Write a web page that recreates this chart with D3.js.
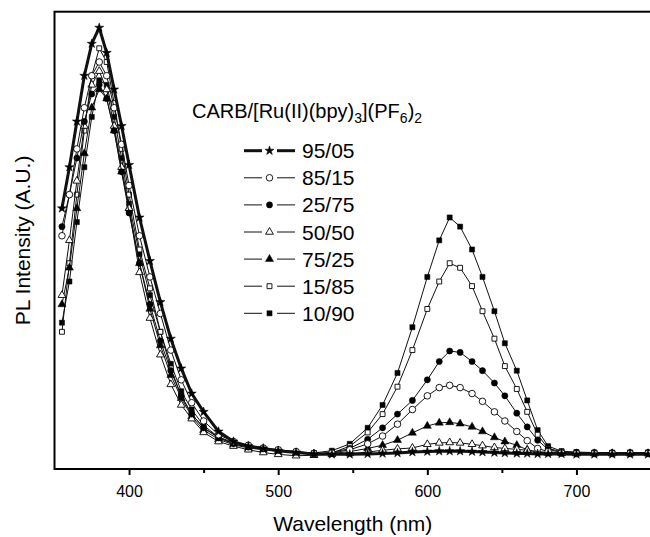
<!DOCTYPE html>
<html>
<head>
<meta charset="utf-8">
<script src="https://cdn.jsdelivr.net/npm/d3@7"></script>
<style>
  body { margin: 0; background: #fff; }
  svg { display: block; font-family: "Liberation Sans", Arial, sans-serif; }
</style>
</head>
<body>
<script>
// wavelength grid (nm), shared by all series
var wavelengths = [355, 360, 365, 370, 375, 380, 385, 390, 395, 400, 407, 414, 421, 428, 435, 442, 450, 460, 470, 480,
  490, 500, 512, 524, 536, 548, 560, 570, 580, 590, 600, 608, 615, 622, 630, 637, 645, 652, 660, 667,
  674, 681, 690, 700, 712, 724, 736, 748];

// PL intensity (a.u.)
var s9505 = [57, 66, 76, 86, 93, 96.5, 91, 83, 75, 66.5, 55, 45.5, 36.5, 28.5, 22, 16.5, 12.5, 8.2, 6, 5,
  4.5, 4, 3.6, 3.3, 3.2, 3.2, 3.3, 3.4, 3.5, 3.7, 3.8, 3.9, 3.9, 3.9, 3.8, 3.7, 3.6, 3.5, 3.4, 3.4,
  3.3, 3.3, 3.3, 3.2, 3.2, 3.2, 3.2, 3.2];
var s8515 = [51, 60, 70, 79, 86, 89, 86, 79, 71, 62, 51, 42, 34, 26, 19.5, 14.5, 10.5, 7.5, 6, 5.2,
  4.6, 4.2, 3.8, 3.4, 3.5, 4.2, 5.5, 7.2, 9.8, 13, 16, 17.8, 18.3, 17.8, 16.5, 14.8, 12.5, 10.5, 8.2, 6.2,
  4.5, 3.8, 3.5, 3.4, 3.4, 3.4, 3.4, 3.4];
var s2575 = [53, 60, 68, 76, 82, 84, 81, 74, 65, 56, 45, 36, 28, 21.5, 16, 12, 9, 6.8, 5.5, 4.8,
  4.4, 4.1, 3.7, 3.4, 3.6, 4.5, 6.5, 9, 12, 15, 19.5, 23.5, 25.8, 25.5, 23.5, 21.5, 18.8, 16, 12.2, 9.2,
  6.3, 4.3, 3.6, 3.5, 3.5, 3.5, 3.5, 3.5];
var s5050 = [38, 50, 63, 75, 84, 87, 83, 75, 66, 57, 43, 33, 25, 18.5, 14, 11, 8, 6, 5, 4.2,
  3.6, 3.2, 2.9, 3, 3.2, 3.4, 3.7, 4.1, 4.4, 4.6, 5.4, 5.7, 5.8, 5.7, 5.4, 5.1, 4.7, 4.5, 4.3, 4.1,
  3.8, 3.6, 3.5, 3.4, 3.4, 3.4, 3.4, 3.4];
var s7525 = [36, 44, 57, 69, 79, 83, 81, 74, 65, 57, 45, 35, 27, 20.5, 15.5, 11.5, 8.5, 6.5, 5.3, 4.6,
  4.2, 3.9, 3.5, 3.3, 3.4, 3.8, 4.5, 5.2, 6.3, 7.9, 9.4, 10.1, 10.2, 9.9, 9.2, 8.2, 6.9, 6, 5.2, 4.2,
  3.7, 3.5, 3.4, 3.4, 3.4, 3.4, 3.4, 3.4];
var s1585 = [30, 45, 60, 74, 86, 92, 89, 80, 70, 60, 48, 39.5, 30, 22, 16, 12, 9, 7, 5.5, 4.8,
  4.3, 4, 3.6, 3.3, 3.5, 5, 8, 12, 18, 26, 35, 41, 45, 44, 40, 34.5, 28.5, 22.5, 17.5, 12.5,
  7.5, 4.5, 3.8, 3.6, 3.6, 3.5, 3.6, 3.6];
var s1090 = [32, 41, 54, 66, 77, 85, 84, 77, 68, 58, 47, 38, 30, 23, 17, 13, 9.5, 7, 5.8, 5,
  4.5, 4.2, 3.8, 3.5, 4, 5.5, 9, 14, 21, 31, 42, 50, 55, 53, 48, 42, 34.5, 27.5, 21.5, 15,
  8.5, 5, 3.9, 3.7, 3.6, 3.6, 3.6, 3.6];

var xTicks = [400, 500, 600, 700];
var xMinorTicks = [450, 550, 650];

var series = [
  { name: "95/05", values: s9505, symbol: d3.symbolStar, size: 26, open: false, width: 3 },
  { name: "85/15", values: s8515, symbol: d3.symbolCircle, size: 34, open: true, width: 1 },
  { name: "25/75", values: s2575, symbol: d3.symbolCircle, size: 30, open: false, width: 1 },
  { name: "50/50", values: s5050, symbol: d3.symbolTriangle, size: 26, open: true, width: 1 },
  { name: "75/25", values: s7525, symbol: d3.symbolTriangle, size: 28, open: false, width: 1 },
  { name: "15/85", values: s1585, symbol: d3.symbolSquare, size: 24, open: true, width: 1 },
  { name: "10/90", values: s1090, symbol: d3.symbolSquare, size: 26, open: false, width: 1 }
];
// draw order: star curve last so it sits on top
var drawOrder = ["10/90", "15/85", "75/25", "50/50", "25/75", "85/15", "95/05"];

var W = 650, H = 537;
var plot = { left: 54.5, right: 651, top: 11.7, bottom: 469 };

var svg = d3.select("body").append("svg")
  .attr("width", W)
  .attr("height", H);

var x = d3.scaleLinear().domain([350, 750]).range([plot.left, plot.right]);
var y = d3.scaleLinear().domain([0, 100]).range([plot.bottom, plot.top]);

var line = d3.line()
  .x(function (d) { return x(d[0]); })
  .y(function (d) { return y(d[1]); });

var gData = svg.append("g");
drawOrder.forEach(function (nm) {
  var s = series.find(function (e) { return e.name === nm; });
  var pts = wavelengths.map(function (w, i) { return [w, s.values[i]]; });
  var g = gData.append("g");
  g.append("path")
    .datum(pts)
    .attr("fill", "none")
    .attr("stroke", "#111")
    .attr("stroke-width", s.width)
    .attr("stroke-linejoin", "round")
    .attr("d", line);
  g.selectAll("path.mk")
    .data(pts)
    .enter().append("path")
    .attr("class", "mk")
    .attr("transform", function (d) { return "translate(" + x(d[0]) + "," + y(d[1]) + ")"; })
    .attr("d", d3.symbol().type(s.symbol).size(s.size))
    .attr("fill", s.open ? "#fff" : "#000")
    .attr("stroke", "#000")
    .attr("stroke-width", s.open ? 0.9 : 0.5);
});

// frame (left, top, bottom; right edge falls at the image border)
svg.append("rect")
  .attr("x", plot.left)
  .attr("y", plot.top)
  .attr("width", plot.right - plot.left)
  .attr("height", plot.bottom - plot.top)
  .attr("fill", "none")
  .attr("stroke", "#000")
  .attr("stroke-width", 2);

// x axis
var xAxis = d3.axisBottom(x)
  .tickValues(xTicks)
  .tickSize(6)
  .tickPadding(11)
  .tickFormat(d3.format("d"));
var gX = svg.append("g")
  .attr("transform", "translate(0," + plot.bottom + ")")
  .call(xAxis);
gX.select(".domain").remove();
gX.selectAll(".tick line").attr("stroke", "#000").attr("stroke-width", 2);
gX.selectAll(".tick text").attr("font-size", 16).attr("fill", "#000");

var gXm = svg.append("g")
  .attr("transform", "translate(0," + plot.bottom + ")")
  .call(d3.axisBottom(x).tickValues(xMinorTicks).tickSize(4).tickFormat(""));
gXm.select(".domain").remove();
gXm.selectAll(".tick line").attr("stroke", "#000").attr("stroke-width", 2);

// axis titles
svg.append("text")
  .attr("x", (plot.left + plot.right) / 2)
  .attr("y", 531)
  .attr("text-anchor", "middle")
  .attr("font-size", 21)
  .text("Wavelength (nm)");

svg.append("text")
  .attr("transform", "translate(30," + ((plot.top + plot.bottom) / 2) + ") rotate(-90)")
  .attr("text-anchor", "middle")
  .attr("font-size", 21)
  .text("PL Intensity (A.U.)");

// legend
var title = svg.append("text")
  .attr("x", 192)
  .attr("y", 118)
  .attr("font-size", 20);
title.append("tspan").text("CARB/[Ru(II)(bpy)");
title.append("tspan").attr("font-size", 14).attr("dy", 5).text("3");
title.append("tspan").attr("dy", -5).text("](PF");
title.append("tspan").attr("font-size", 14).attr("dy", 5).text("6");
title.append("tspan").attr("dy", -5).text(")");
title.append("tspan").attr("font-size", 14).attr("dy", 5).text("2");

var legend = svg.append("g");
series.forEach(function (s, i) {
  var cy = 150.7 + i * 27.1;
  var row = legend.append("g").attr("transform", "translate(0," + cy + ")");
  row.append("line").attr("x1", 244).attr("x2", 262).attr("y1", 0).attr("y2", 0)
    .attr("stroke", "#111").attr("stroke-width", s.width);
  row.append("line").attr("x1", 277).attr("x2", 295).attr("y1", 0).attr("y2", 0)
    .attr("stroke", "#111").attr("stroke-width", s.width);
  row.append("path")
    .attr("transform", "translate(269.5,0)")
    .attr("d", d3.symbol().type(s.symbol).size(s.size))
    .attr("fill", s.open ? "#fff" : "#000")
    .attr("stroke", "#000")
    .attr("stroke-width", s.open ? 0.9 : 0.5);
  row.append("text")
    .attr("x", 302)
    .attr("y", 7.5)
    .attr("font-size", 21)
    .text(s.name);
});
</script>
</body>
</html>
